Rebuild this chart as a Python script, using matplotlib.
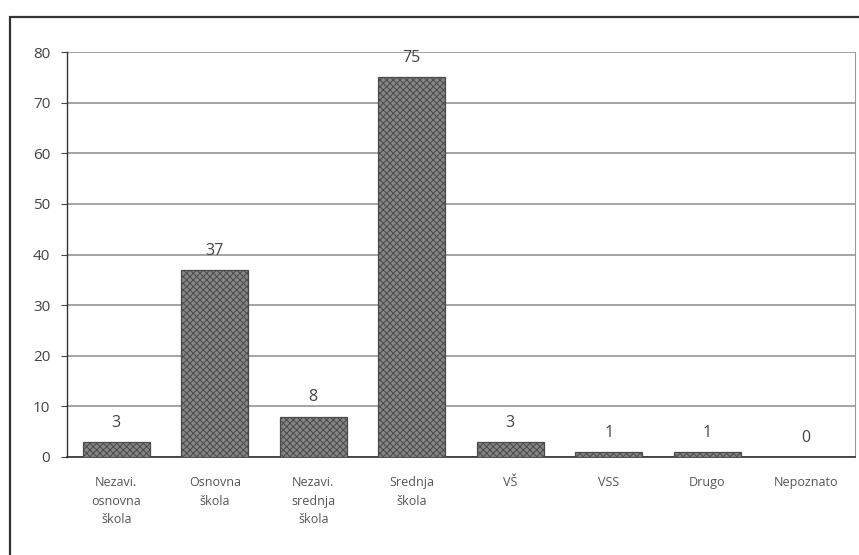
import matplotlib
matplotlib.use("Agg")
import matplotlib.pyplot as plt
from matplotlib.patches import Rectangle

# education level counts
categories = ["Nezavi.\nosnovna\nškola", "Osnovna\nškola", "Nezavi.\nsrednja\nškola",
              "Srednja\nškola", "VŠ", "VSS", "Drugo", "Nepoznato"]
counts = [3, 37, 8, 75, 3, 1, 1, 0]
yticks = [0, 10, 20, 30, 40, 50, 60, 70, 80]

plt.rcParams['font.family'] = ['Open Sans', 'DejaVu Sans']
plt.rcParams['hatch.color'] = '#5c5c5c'
plt.rcParams['hatch.linewidth'] = 0.7

fig = plt.figure(figsize=(8.59, 5.55), dpi=100)
ax = fig.add_axes([67 / 859, 1 - 457 / 555, 788 / 859, 405 / 555])

x = list(range(len(categories)))
ax.bar(x, counts, width=0.68, color='#858585', edgecolor='#4a4a4a',
       linewidth=0.9, hatch='xxxxx', zorder=3)

for xi, v in zip(x, counts):
    ax.annotate(str(v), (xi, v), xytext=(0, 8), textcoords='offset points',
                ha='center', va='bottom', fontsize=11.5, color='#444444')

ax.set_xlim(-0.5, len(categories) - 0.5)
ax.set_ylim(0, 80)
ax.set_yticks(yticks)
ax.set_yticklabels([str(t) for t in yticks], fontsize=11, color='#444444')
ax.set_xticks(x)
ax.set_xticklabels(categories, fontsize=9, color='#555555', linespacing=1.55)
ax.tick_params(axis='x', length=0, pad=14)
ax.tick_params(axis='y', length=4, width=0.8, color='#444444', pad=8)

ax.yaxis.grid(True, color='#8c8c8c', linewidth=1.1, zorder=0)
ax.set_axisbelow(True)
ax.spines['top'].set_visible(False)
ax.spines['right'].set_color('#9a9a9a')
ax.spines['right'].set_linewidth(0.8)
ax.spines['left'].set_color('#333333')
ax.spines['bottom'].set_color('#333333')
ax.spines['left'].set_linewidth(1.0)
ax.spines['bottom'].set_linewidth(1.2)

# outer border around the chart
fig.patches.append(Rectangle((10 / 859, -0.01), 0.995, 1 - 17 / 555 + 0.01,
                             transform=fig.transFigure, fill=False,
                             edgecolor='#333333', linewidth=1.6))

fig.savefig("out.png", dpi=100)
